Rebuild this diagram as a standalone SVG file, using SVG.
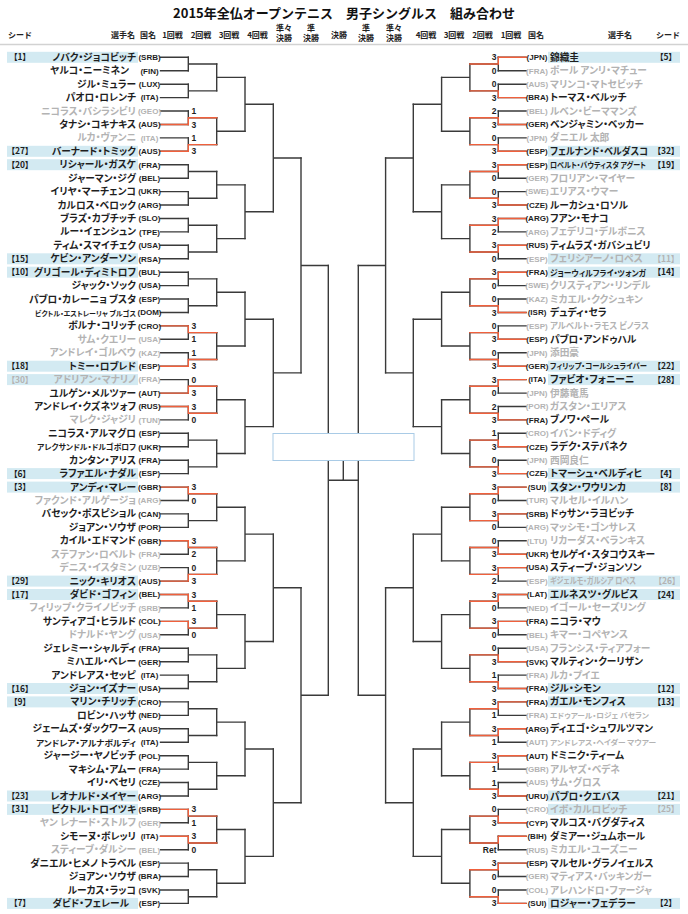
<svg xmlns="http://www.w3.org/2000/svg" xmlns:xlink="http://www.w3.org/1999/xlink" width="688" height="914" viewBox="0 0 688 914">
<style>
text{font-family:"Noto Sans CJK JP","Noto Sans",sans-serif}
.ti{font-size:13px;font-weight:700;fill:#111;text-anchor:middle}
.hd{font-size:8px;font-weight:700;fill:#222;text-anchor:middle}
.nm{font-size:9.7px;font-weight:700;fill:#1e1e1e;font-feature-settings:"palt"}
.l{text-anchor:end}
.co{font-family:"Liberation Sans",Arial,sans-serif;font-size:8px;font-weight:700;fill:#1e1e1e;text-anchor:middle}
.sd{font-size:8.5px;font-weight:700;fill:#1e1e1e;text-anchor:middle;font-feature-settings:"palt"}
.sc{font-family:"Liberation Sans",Arial,sans-serif;font-size:8.5px;font-weight:700;fill:#1e1e1e}
.r{text-anchor:end}
.g text{fill:#b3b3b3}
.hl{fill:#d3eaf2}
.ln{fill:none;stroke:#3a3a3a;stroke-width:1.4;stroke-linecap:square}
.rd{fill:none;stroke:#f0603c;stroke-width:1.4;stroke-linecap:square}
</style>
<rect width="688" height="914" fill="#fff"/>
<g id="header">
<text class="ti" x="344" y="17.5">2015年全仏オープンテニス　男子シングルス　組み合わせ</text>
<text class="hd" x="20" y="38">シード</text>
<text class="hd" x="123" y="38">選手名</text>
<text class="hd" x="148" y="38">国名</text>
<text class="hd" x="172.5" y="38">1回戦</text>
<text class="hd" x="201" y="38">2回戦</text>
<text class="hd" x="229" y="38">3回戦</text>
<text class="hd" x="257.5" y="38">4回戦</text>
<text class="hd" x="284" y="30.5">準々</text><text class="hd" x="284" y="40.5">決勝</text>
<text class="hd" x="311" y="30.5">準</text><text class="hd" x="311" y="40.5">決勝</text>
<text class="hd" x="339" y="38">決勝</text>
<text class="hd" x="366" y="30.5">準</text><text class="hd" x="366" y="40.5">決勝</text>
<text class="hd" x="394" y="30.5">準々</text><text class="hd" x="394" y="40.5">決勝</text>
<text class="hd" x="426" y="38">4回戦</text>
<text class="hd" x="454" y="38">3回戦</text>
<text class="hd" x="482.5" y="38">2回戦</text>
<text class="hd" x="511" y="38">1回戦</text>
<text class="hd" x="536" y="38">国名</text>
<text class="hd" x="620" y="38">選手名</text>
<text class="hd" x="668" y="38">シード</text>
<line x1="0" y1="44.5" x2="688" y2="44.5" stroke="#d2d2d2" stroke-width="1.5"/>
</g>
<g id="connectors">
<g id="bracketL" class="ln">
<path d="M160.5 57.3h27.8M160.5 70.7h27.8M160.5 84.2h27.8M160.5 97.6h27.8M160.5 111h27.8M160.5 124.5h27.8M160.5 137.9h27.8M160.5 151.3h27.8M160.5 164.7h27.8M160.5 178.2h27.8M160.5 191.6h27.8M160.5 205h27.8M160.5 218.5h27.8M160.5 231.9h27.8M160.5 245.3h27.8M160.5 258.8h27.8M160.5 272.2h27.8M160.5 285.6h27.8M160.5 299h27.8M160.5 312.5h27.8M160.5 325.9h27.8M160.5 339.3h27.8M160.5 352.8h27.8M160.5 366.2h27.8M160.5 379.6h27.8M160.5 393.1h27.8M160.5 406.5h27.8M160.5 419.9h27.8M160.5 433.3h27.8M160.5 446.8h27.8M160.5 460.2h27.8M160.5 473.6h27.8M160.5 487.1h27.8M160.5 500.5h27.8M160.5 513.9h27.8M160.5 527.4h27.8M160.5 540.8h27.8M160.5 554.2h27.8M160.5 567.6h27.8M160.5 581.1h27.8M160.5 594.5h27.8M160.5 607.9h27.8M160.5 621.4h27.8M160.5 634.8h27.8M160.5 648.2h27.8M160.5 661.7h27.8M160.5 675.1h27.8M160.5 688.5h27.8M160.5 701.9h27.8M160.5 715.4h27.8M160.5 728.8h27.8M160.5 742.2h27.8M160.5 755.7h27.8M160.5 769.1h27.8M160.5 782.5h27.8M160.5 796h27.8M160.5 809.4h27.8M160.5 822.8h27.8M160.5 836.2h27.8M160.5 849.7h27.8M160.5 863.1h27.8M160.5 876.5h27.8M160.5 890h27.8M160.5 903.4h27.8"/>
<path d="M188.3 57.3V70.7M188.3 64h28.4M188.3 84.2V97.6M188.3 90.9h28.4M188.3 111V124.5M188.3 117.7h28.4M188.3 137.9V151.3M188.3 144.6h28.4M188.3 164.7V178.2M188.3 171.5h28.4M188.3 191.6V205M188.3 198.3h28.4M188.3 218.5V231.9M188.3 225.2h28.4M188.3 245.3V258.8M188.3 252h28.4M188.3 272.2V285.6M188.3 278.9h28.4M188.3 299V312.5M188.3 305.8h28.4M188.3 325.9V339.3M188.3 332.6h28.4M188.3 352.8V366.2M188.3 359.5h28.4M188.3 379.6V393.1M188.3 386.3h28.4M188.3 406.5V419.9M188.3 413.2h28.4M188.3 433.3V446.8M188.3 440.1h28.4M188.3 460.2V473.6M188.3 466.9h28.4M188.3 487.1V500.5M188.3 493.8h28.4M188.3 513.9V527.4M188.3 520.6h28.4M188.3 540.8V554.2M188.3 547.5h28.4M188.3 567.6V581.1M188.3 574.4h28.4M188.3 594.5V607.9M188.3 601.2h28.4M188.3 621.4V634.8M188.3 628.1h28.4M188.3 648.2V661.7M188.3 654.9h28.4M188.3 675.1V688.5M188.3 681.8h28.4M188.3 701.9V715.4M188.3 708.7h28.4M188.3 728.8V742.2M188.3 735.5h28.4M188.3 755.7V769.1M188.3 762.4h28.4M188.3 782.5V796M188.3 789.2h28.4M188.3 809.4V822.8M188.3 816.1h28.4M188.3 836.2V849.7M188.3 843h28.4M188.3 863.1V876.5M188.3 869.8h28.4M188.3 890V903.4M188.3 896.7h28.4"/>
<path d="M216.7 64V90.9M216.7 77.4h28.3M216.7 117.7V144.6M216.7 131.2h28.3M216.7 171.5V198.3M216.7 184.9h28.3M216.7 225.2V252M216.7 238.6h28.3M216.7 278.9V305.8M216.7 292.3h28.3M216.7 332.6V359.5M216.7 346h28.3M216.7 386.3V413.2M216.7 399.8h28.3M216.7 440.1V466.9M216.7 453.5h28.3M216.7 493.8V520.6M216.7 507.2h28.3M216.7 547.5V574.4M216.7 560.9h28.3M216.7 601.2V628.1M216.7 614.6h28.3M216.7 654.9V681.8M216.7 668.4h28.3M216.7 708.7V735.5M216.7 722.1h28.3M216.7 762.4V789.2M216.7 775.8h28.3M216.7 816.1V843M216.7 829.5h28.3M216.7 869.8V896.7M216.7 883.2h28.3"/>
<path d="M245 77.4V131.2M245 104.3h28.3M245 184.9V238.6M245 211.7h28.3M245 292.3V346M245 319.2h28.3M245 399.8V453.5M245 426.6h28.3M245 507.2V560.9M245 534.1h28.3M245 614.6V668.4M245 641.5h28.3M245 722.1V775.8M245 749h28.3M245 829.5V883.2M245 856.4h28.3"/>
<path d="M273.3 104.3V211.7M273.3 158h27.7M273.3 319.2V426.6M273.3 372.9h27.7M273.3 534.1V641.5M273.3 587.8h27.7M273.3 749V856.4M273.3 802.7h27.7"/>
<path d="M301 158V372.9M301 265.5h27.3M301 587.8V802.7M301 695.2h27.3"/>
<path d="M328.3 265.5V695.2M328.3 480.3H343.3"/>
</g>
<use id="bracketR" xlink:href="#bracketL" href="#bracketL" transform="matrix(-1 0 0 1 686.6 0)"/>
<path id="finalStem" class="ln" d="M343.3 480.3V460"/>
<g id="redL" class="rd">
<path d="M160.5 124.5H188.3V117.7H216.7M160.5 151.3H188.3V144.6H216.7M160.5 325.9H188.3V332.6H216.7M160.5 366.2H188.3V359.5H216.7M160.5 393.1H188.3V386.3H216.7M160.5 406.5H188.3V413.2H216.7M160.5 487.1H188.3V493.8H216.7M160.5 540.8H188.3V547.5H216.7M160.5 581.1H188.3V574.4H216.7M160.5 594.5H188.3V601.2H216.7M160.5 621.4H188.3V628.1H216.7M160.5 809.4H188.3V816.1H216.7M160.5 836.2H188.3V843H216.7"/>
</g>
<g id="redR" class="rd">
<path d="M526 57.3H498.3V64H469.8M526 97.6H498.3V90.9H469.8M526 124.5H498.3V117.7H469.8M526 151.3H498.3V144.6H469.8M526 164.7H498.3V171.5H469.8M526 205H498.3V198.3H469.8M526 218.5H498.3V225.2H469.8M526 245.3H498.3V252H469.8M526 272.2H498.3V278.9H469.8M526 312.5H498.3V305.8H469.8M526 339.3H498.3V332.6H469.8M526 366.2H498.3V359.5H469.8M526 379.6H498.3V386.3H469.8M526 419.9H498.3V413.2H469.8M526 446.8H498.3V440.1H469.8M526 473.6H498.3V466.9H469.8M526 487.1H498.3V493.8H469.8M526 513.9H498.3V520.6H469.8M526 554.2H498.3V547.5H469.8M526 567.6H498.3V574.4H469.8M526 594.5H498.3V601.2H469.8M526 621.4H498.3V628.1H469.8M526 661.7H498.3V654.9H469.8M526 688.5H498.3V681.8H469.8M526 701.9H498.3V708.7H469.8M526 728.8H498.3V735.5H469.8M526 755.7H498.3V762.4H469.8M526 796H498.3V789.2H469.8M526 822.8H498.3V816.1H469.8M526 836.2H498.3V843H469.8M526 863.1H498.3V869.8H469.8M526 903.4H498.3V896.7H469.8"/>
</g>
</g>
<g id="champion"><rect x="273" y="433.5" width="141" height="27" fill="#fff" stroke="#a9cbe6" stroke-width="1"/></g>
<g id="left">
<g id="L00" transform="translate(0,57.3)"><rect class="hl" x="7" y="-5.5" width="131" height="11"/><text class="sd" x="20" y="3">【1】</text><text class="nm l" x="136" y="3.5">ノバク・ジョコビッチ</text><text class="co" x="149.5" y="2.8">(SRB)</text></g>
<g id="L01" transform="translate(0,70.7)"><text class="nm l" x="129" y="3.5">ヤルコ・ニーミネン</text><text class="co" x="149.5" y="2.8">(FIN)</text></g>
<g id="L02" transform="translate(0,84.2)"><text class="nm l" x="136" y="3.5">ジル・ミュラー</text><text class="co" x="149.5" y="2.8">(LUX)</text></g>
<g id="L03" transform="translate(0,97.6)"><text class="nm l" x="136" y="3.5">パオロ・ロレンチ</text><text class="co" x="149.5" y="2.8">(ITA)</text></g>
<g id="L04" class="g" transform="translate(0,111)"><text class="nm l" x="136" y="3.5">ニコラス・バシラシビリ</text><text class="co" x="149.5" y="2.8">(GEO)</text></g><text class="sc" x="191.5" y="114">1</text>
<g id="L05" transform="translate(0,124.5)"><text class="nm l" x="136" y="3.5">タナシ・コキナキス</text><text class="co" x="149.5" y="2.8">(AUS)</text><text class="sc" x="191.5" y="3">3</text></g>
<g id="L06" class="g" transform="translate(0,137.9)"><text class="nm l" x="136" y="3.5">ルカ・ヴァンニ</text><text class="co" x="149.5" y="2.8">(ITA)</text></g><text class="sc" x="191.5" y="140.9">1</text>
<g id="L07" transform="translate(0,151.3)"><rect class="hl" x="7" y="-5.5" width="131" height="11"/><text class="sd" x="20" y="3">【27】</text><text class="nm l" x="136" y="3.5">バーナード・トミック</text><text class="co" x="149.5" y="2.8">(AUS)</text><text class="sc" x="191.5" y="3">3</text></g>
<g id="L08" transform="translate(0,164.7)"><rect class="hl" x="7" y="-5.5" width="131" height="11"/><text class="sd" x="20" y="3">【20】</text><text class="nm l" x="136" y="3.5">リシャール・ガスケ</text><text class="co" x="149.5" y="2.8">(FRA)</text></g>
<g id="L09" transform="translate(0,178.2)"><text class="nm l" x="136" y="3.5">ジャーマン・ジグ</text><text class="co" x="149.5" y="2.8">(BEL)</text></g>
<g id="L10" transform="translate(0,191.6)"><text class="nm l" x="136" y="3.5">イリヤ・マーチェンコ</text><text class="co" x="149.5" y="2.8">(UKR)</text></g>
<g id="L11" transform="translate(0,205)"><text class="nm l" x="136" y="3.5">カルロス・ベロック</text><text class="co" x="149.5" y="2.8">(ARG)</text></g>
<g id="L12" transform="translate(0,218.5)"><text class="nm l" x="136" y="3.5">ブラズ・カブチッチ</text><text class="co" x="149.5" y="2.8">(SLO)</text></g>
<g id="L13" transform="translate(0,231.9)"><text class="nm l" x="136" y="3.5">ルー・イェンシュン</text><text class="co" x="149.5" y="2.8">(TPE)</text></g>
<g id="L14" transform="translate(0,245.3)"><text class="nm l" x="136" y="3.5">ティム・スマイチェク</text><text class="co" x="149.5" y="2.8">(USA)</text></g>
<g id="L15" transform="translate(0,258.8)"><rect class="hl" x="7" y="-5.5" width="131" height="11"/><text class="sd" x="20" y="3">【15】</text><text class="nm l" x="136" y="3.5">ケビン・アンダーソン</text><text class="co" x="149.5" y="2.8">(RSA)</text></g>
<g id="L16" transform="translate(0,272.2)"><rect class="hl" x="7" y="-5.5" width="131" height="11"/><text class="sd" x="20" y="3">【10】</text><text class="nm l" x="136" y="3.5">グリゴール・ディミトロフ</text><text class="co" x="149.5" y="2.8">(BUL)</text></g>
<g id="L17" transform="translate(0,285.6)"><text class="nm l" x="136" y="3.5">ジャック・ソック</text><text class="co" x="149.5" y="2.8">(USA)</text></g>
<g id="L18" transform="translate(0,299)"><text class="nm l" x="136" y="3.5">パブロ・カレーニョ ブスタ</text><text class="co" x="149.5" y="2.8">(ESP)</text></g>
<g id="L19" transform="translate(0,312.5)"><text class="nm l" x="136" y="3" style="font-size:7px" textLength="101" lengthAdjust="spacingAndGlyphs">ビクトル・エストレーリャ ブルゴス</text><text class="co" x="149.5" y="2.8">(DOM)</text></g>
<g id="L20" transform="translate(0,325.9)"><text class="nm l" x="136" y="3.5">ボルナ・コリッチ</text><text class="co" x="149.5" y="2.8">(CRO)</text><text class="sc" x="191.5" y="3">3</text></g>
<g id="L21" class="g" transform="translate(0,339.3)"><text class="nm l" x="136" y="3.5">サム・クエリー</text><text class="co" x="149.5" y="2.8">(USA)</text></g><text class="sc" x="191.5" y="342.3">1</text>
<g id="L22" class="g" transform="translate(0,352.8)"><text class="nm l" x="136" y="3.5">アンドレイ・ゴルベウ</text><text class="co" x="149.5" y="2.8">(KAZ)</text></g><text class="sc" x="191.5" y="355.8">1</text>
<g id="L23" transform="translate(0,366.2)"><rect class="hl" x="7" y="-5.5" width="131" height="11"/><text class="sd" x="20" y="3">【18】</text><text class="nm l" x="136" y="3.5">トミー・ロブレド</text><text class="co" x="149.5" y="2.8">(ESP)</text><text class="sc" x="191.5" y="3">3</text></g>
<g id="L24" class="g" transform="translate(0,379.6)"><rect class="hl" x="7" y="-5.5" width="131" height="11"/><text class="sd" x="20" y="3">【30】</text><text class="nm l" x="136" y="3.5">アドリアン・マナリノ</text><text class="co" x="149.5" y="2.8">(FRA)</text></g><text class="sc" x="191.5" y="382.6">0</text>
<g id="L25" transform="translate(0,393.1)"><text class="nm l" x="136" y="3.5">ユルゲン・メルツァー</text><text class="co" x="149.5" y="2.8">(AUT)</text><text class="sc" x="191.5" y="3">3</text></g>
<g id="L26" transform="translate(0,406.5)"><text class="nm l" x="136" y="3.5">アンドレイ・クズネツォフ</text><text class="co" x="149.5" y="2.8">(RUS)</text><text class="sc" x="191.5" y="3">3</text></g>
<g id="L27" class="g" transform="translate(0,419.9)"><text class="nm l" x="136" y="3.5">マレク・ジャジリ</text><text class="co" x="149.5" y="2.8">(TUN)</text></g><text class="sc" x="191.5" y="422.9">0</text>
<g id="L28" transform="translate(0,433.3)"><text class="nm l" x="136" y="3.5">ニコラス・アルマグロ</text><text class="co" x="149.5" y="2.8">(ESP)</text></g>
<g id="L29" transform="translate(0,446.8)"><text class="nm l" x="136" y="3.2" style="font-size:7.8px" textLength="99" lengthAdjust="spacingAndGlyphs">アレクサンドル・ドルゴポロフ</text><text class="co" x="149.5" y="2.8">(UKR)</text></g>
<g id="L30" transform="translate(0,460.2)"><text class="nm l" x="136" y="3.5">カンタン・アリス</text><text class="co" x="149.5" y="2.8">(FRA)</text></g>
<g id="L31" transform="translate(0,473.6)"><rect class="hl" x="7" y="-5.5" width="131" height="11"/><text class="sd" x="20" y="3">【6】</text><text class="nm l" x="136" y="3.5">ラファエル・ナダル</text><text class="co" x="149.5" y="2.8">(ESP)</text></g>
<g id="L32" transform="translate(0,487.1)"><rect class="hl" x="7" y="-5.5" width="131" height="11"/><text class="sd" x="20" y="3">【3】</text><text class="nm l" x="136" y="3.5">アンディ・マレー</text><text class="co" x="149.5" y="2.8">(GBR)</text><text class="sc" x="191.5" y="3">3</text></g>
<g id="L33" class="g" transform="translate(0,500.5)"><text class="nm l" x="136" y="3.5">ファクンド・アルゲージョ</text><text class="co" x="149.5" y="2.8">(ARG)</text></g><text class="sc" x="191.5" y="503.5">0</text>
<g id="L34" transform="translate(0,513.9)"><text class="nm l" x="136" y="3.5">バセック・ポスピショル</text><text class="co" x="149.5" y="2.8">(CAN)</text></g>
<g id="L35" transform="translate(0,527.4)"><text class="nm l" x="136" y="3.5">ジョアン・ソウザ</text><text class="co" x="149.5" y="2.8">(POR)</text></g>
<g id="L36" transform="translate(0,540.8)"><text class="nm l" x="136" y="3.5">カイル・エドマンド</text><text class="co" x="149.5" y="2.8">(GBR)</text><text class="sc" x="191.5" y="3">3</text></g>
<g id="L37" class="g" transform="translate(0,554.2)"><text class="nm l" x="136" y="3.5">ステファン・ロベルト</text><text class="co" x="149.5" y="2.8">(FRA)</text></g><text class="sc" x="191.5" y="557.2">2</text>
<g id="L38" class="g" transform="translate(0,567.6)"><text class="nm l" x="136" y="3.5">デニス・イスタミン</text><text class="co" x="149.5" y="2.8">(UZB)</text></g><text class="sc" x="191.5" y="570.6">0</text>
<g id="L39" transform="translate(0,581.1)"><rect class="hl" x="7" y="-5.5" width="131" height="11"/><text class="sd" x="20" y="3">【29】</text><text class="nm l" x="136" y="3.5">ニック・キリオス</text><text class="co" x="149.5" y="2.8">(AUS)</text><text class="sc" x="191.5" y="3">3</text></g>
<g id="L40" transform="translate(0,594.5)"><rect class="hl" x="7" y="-5.5" width="131" height="11"/><text class="sd" x="20" y="3">【17】</text><text class="nm l" x="136" y="3.5">ダビド・ゴフィン</text><text class="co" x="149.5" y="2.8">(BEL)</text><text class="sc" x="191.5" y="3">3</text></g>
<g id="L41" class="g" transform="translate(0,607.9)"><text class="nm l" x="136" y="3.5">フィリップ・クライノビッチ</text><text class="co" x="149.5" y="2.8">(SRB)</text></g><text class="sc" x="191.5" y="610.9">1</text>
<g id="L42" transform="translate(0,621.4)"><text class="nm l" x="136" y="3.5">サンティアゴ・ヒラルド</text><text class="co" x="149.5" y="2.8">(COL)</text><text class="sc" x="191.5" y="3">3</text></g>
<g id="L43" class="g" transform="translate(0,634.8)"><text class="nm l" x="136" y="3.5">ドナルド・ヤング</text><text class="co" x="149.5" y="2.8">(USA)</text></g><text class="sc" x="191.5" y="637.8">0</text>
<g id="L44" transform="translate(0,648.2)"><text class="nm l" x="136" y="3.5">ジェレミー・シャルディ</text><text class="co" x="149.5" y="2.8">(FRA)</text></g>
<g id="L45" transform="translate(0,661.7)"><text class="nm l" x="136" y="3.5">ミハエル・ベレー</text><text class="co" x="149.5" y="2.8">(GER)</text></g>
<g id="L46" transform="translate(0,675.1)"><text class="nm l" x="136" y="3.5">アンドレアス・セッピ</text><text class="co" x="149.5" y="2.8">(ITA)</text></g>
<g id="L47" transform="translate(0,688.5)"><rect class="hl" x="7" y="-5.5" width="131" height="11"/><text class="sd" x="20" y="3">【16】</text><text class="nm l" x="136" y="3.5">ジョン・イズナー</text><text class="co" x="149.5" y="2.8">(USA)</text></g>
<g id="L48" transform="translate(0,701.9)"><rect class="hl" x="7" y="-5.5" width="131" height="11"/><text class="sd" x="20" y="3">【9】</text><text class="nm l" x="136" y="3.5">マリン・チリッチ</text><text class="co" x="149.5" y="2.8">(CRO)</text></g>
<g id="L49" transform="translate(0,715.4)"><text class="nm l" x="136" y="3.5">ロビン・ハッサ</text><text class="co" x="149.5" y="2.8">(NED)</text></g>
<g id="L50" transform="translate(0,728.8)"><text class="nm l" x="136" y="3.5">ジェームズ・ダックワース</text><text class="co" x="149.5" y="2.8">(AUS)</text></g>
<g id="L51" transform="translate(0,742.2)"><text class="nm l" x="136" y="3.3" style="font-size:8.5px" textLength="100" lengthAdjust="spacingAndGlyphs">アンドレア・アルナボルディ</text><text class="co" x="149.5" y="2.8">(ITA)</text></g>
<g id="L52" transform="translate(0,755.7)"><text class="nm l" x="136" y="3.5">ジャージー・ヤノビッチ</text><text class="co" x="149.5" y="2.8">(POL)</text></g>
<g id="L53" transform="translate(0,769.1)"><text class="nm l" x="136" y="3.5">マキシム・アムー</text><text class="co" x="149.5" y="2.8">(FRA)</text></g>
<g id="L54" transform="translate(0,782.5)"><text class="nm l" x="136" y="3.5">イリ・ベセリ</text><text class="co" x="149.5" y="2.8">(CZE)</text></g>
<g id="L55" transform="translate(0,796)"><rect class="hl" x="7" y="-5.5" width="131" height="11"/><text class="sd" x="20" y="3">【23】</text><text class="nm l" x="136" y="3.5">レオナルド・メイヤー</text><text class="co" x="149.5" y="2.8">(ARG)</text></g>
<g id="L56" transform="translate(0,809.4)"><rect class="hl" x="7" y="-5.5" width="131" height="11"/><text class="sd" x="20" y="3">【31】</text><text class="nm l" x="136" y="3.5">ビクトル・トロイツキ</text><text class="co" x="149.5" y="2.8">(SRB)</text><text class="sc" x="191.5" y="3">3</text></g>
<g id="L57" class="g" transform="translate(0,822.8)"><text class="nm l" x="136" y="3.5">ヤン レナード・ストルフ</text><text class="co" x="149.5" y="2.8">(GER)</text></g><text class="sc" x="191.5" y="825.8">1</text>
<g id="L58" transform="translate(0,836.2)"><text class="nm l" x="136" y="3.5">シモーヌ・ボレッリ</text><text class="co" x="149.5" y="2.8">(ITA)</text><text class="sc" x="191.5" y="3">3</text></g>
<g id="L59" class="g" transform="translate(0,849.7)"><text class="nm l" x="136" y="3.5">スティーブ・ダルシー</text><text class="co" x="149.5" y="2.8">(BEL)</text></g><text class="sc" x="191.5" y="852.7">0</text>
<g id="L60" transform="translate(0,863.1)"><text class="nm l" x="136" y="3.5">ダニエル・ヒメノ トラベル</text><text class="co" x="149.5" y="2.8">(ESP)</text></g>
<g id="L61" transform="translate(0,876.5)"><text class="nm l" x="136" y="3.5">ジョアン・ソウザ</text><text class="co" x="149.5" y="2.8">(BRA)</text></g>
<g id="L62" transform="translate(0,890)"><text class="nm l" x="136" y="3.5">ルーカス・ラッコ</text><text class="co" x="149.5" y="2.8">(SVK)</text></g>
<g id="L63" transform="translate(0,903.4)"><rect class="hl" x="7" y="-5.5" width="131" height="11"/><text class="sd" x="20" y="3">【7】</text><text class="nm l" x="129" y="3.5">ダビド・フェレール</text><text class="co" x="149.5" y="2.8">(ESP)</text></g>
</g>
<g id="right">
<g id="R00" transform="translate(0,57.3)"><rect class="hl" x="548" y="-5.5" width="132" height="11"/><text class="sc r" x="496.5" y="3">3</text><text class="co" x="537" y="2.8">(JPN)</text><text class="nm" x="550" y="3.5">錦織圭</text><text class="sd" x="666" y="3">【5】</text></g>
<g id="R01" transform="translate(0,70.7)"><text class="sc r" x="496.5" y="3">0</text><g class="g"><text class="co" x="537" y="2.8">(FRA)</text><text class="nm" x="550" y="3.5">ポール アンリ・マチュー</text></g></g>
<g id="R02" transform="translate(0,84.2)"><text class="sc r" x="496.5" y="3">0</text><g class="g"><text class="co" x="537" y="2.8">(AUS)</text><text class="nm" x="550" y="3.5">マリンコ・マトセビッチ</text></g></g>
<g id="R03" transform="translate(0,97.6)"><text class="sc r" x="496.5" y="3">3</text><text class="co" x="537" y="2.8">(BRA)</text><text class="nm" x="550" y="3.5">トーマス・ベルッチ</text></g>
<g id="R04" transform="translate(0,111)"><text class="sc r" x="496.5" y="3">2</text><g class="g"><text class="co" x="537" y="2.8">(BEL)</text><text class="nm" x="550" y="3.5">ルベン・ビーママンズ</text></g></g>
<g id="R05" transform="translate(0,124.5)"><text class="sc r" x="496.5" y="3">3</text><text class="co" x="537" y="2.8">(GER)</text><text class="nm" x="550" y="3.5">ベンジャミン・ベッカー</text></g>
<g id="R06" transform="translate(0,137.9)"><text class="sc r" x="496.5" y="3">0</text><g class="g"><text class="co" x="537" y="2.8">(JPN)</text><text class="nm" x="550" y="3.5">ダニエル 太郎</text></g></g>
<g id="R07" transform="translate(0,151.3)"><rect class="hl" x="548" y="-5.5" width="132" height="11"/><text class="sc r" x="496.5" y="3">3</text><text class="co" x="537" y="2.8">(ESP)</text><text class="nm" x="550" y="3.5" textLength="98" lengthAdjust="spacingAndGlyphs">フェルナンド・ベルダスコ</text><text class="sd" x="666" y="3">【32】</text></g>
<g id="R08" transform="translate(0,164.7)"><rect class="hl" x="548" y="-5.5" width="132" height="11"/><text class="sc r" x="496.5" y="3">3</text><text class="co" x="537" y="2.8">(ESP)</text><text class="nm" x="550" y="3.2" style="font-size:7.8px" textLength="96" lengthAdjust="spacingAndGlyphs">ロベルト・バウティスタ アグート</text><text class="sd" x="666" y="3">【19】</text></g>
<g id="R09" transform="translate(0,178.2)"><text class="sc r" x="496.5" y="3">0</text><g class="g"><text class="co" x="537" y="2.8">(GER)</text><text class="nm" x="550" y="3.5">フロリアン・マイヤー</text></g></g>
<g id="R10" transform="translate(0,191.6)"><text class="sc r" x="496.5" y="3">0</text><g class="g"><text class="co" x="537" y="2.8">(SWE)</text><text class="nm" x="550" y="3.5">エリアス・ウマー</text></g></g>
<g id="R11" transform="translate(0,205)"><text class="sc r" x="496.5" y="3">3</text><text class="co" x="537" y="2.8">(CZE)</text><text class="nm" x="550" y="3.5">ルーカシュ・ロソル</text></g>
<g id="R12" transform="translate(0,218.5)"><text class="sc r" x="496.5" y="3">3</text><text class="co" x="537" y="2.8">(ARG)</text><text class="nm" x="550" y="3.5">フアン・モナコ</text></g>
<g id="R13" transform="translate(0,231.9)"><text class="sc r" x="496.5" y="3">2</text><g class="g"><text class="co" x="537" y="2.8">(ARG)</text><text class="nm" x="550" y="3.5">フェデリコ・デルボニス</text></g></g>
<g id="R14" transform="translate(0,245.3)"><text class="sc r" x="496.5" y="3">3</text><text class="co" x="537" y="2.8">(RUS)</text><text class="nm" x="550" y="3.5">ティムラズ・ガバシュビリ</text></g>
<g id="R15" transform="translate(0,258.8)"><rect class="hl" x="548" y="-5.5" width="132" height="11"/><text class="sc r" x="496.5" y="3">0</text><g class="g"><text class="co" x="537" y="2.8">(ESP)</text><text class="nm" x="550" y="3.5">フェリシアーノ・ロペス</text><text class="sd" x="666" y="3">【11】</text></g></g>
<g id="R16" transform="translate(0,272.2)"><rect class="hl" x="548" y="-5.5" width="132" height="11"/><text class="sc r" x="496.5" y="3">3</text><text class="co" x="537" y="2.8">(FRA)</text><text class="nm" x="550" y="3.3" style="font-size:8.5px" textLength="96" lengthAdjust="spacingAndGlyphs">ジョーウィルフライ・ツォンガ</text><text class="sd" x="666" y="3">【14】</text></g>
<g id="R17" transform="translate(0,285.6)"><text class="sc r" x="496.5" y="3">0</text><g class="g"><text class="co" x="537" y="2.8">(SWE)</text><text class="nm" x="550" y="3.5">クリスティアン・リンデル</text></g></g>
<g id="R18" transform="translate(0,299)"><text class="sc r" x="496.5" y="3">0</text><g class="g"><text class="co" x="537" y="2.8">(KAZ)</text><text class="nm" x="550" y="3.5">ミカエル・ククシュキン</text></g></g>
<g id="R19" transform="translate(0,312.5)"><text class="sc r" x="496.5" y="3">3</text><text class="co" x="537" y="2.8">(ISR)</text><text class="nm" x="550" y="3.5">デュディ・セラ</text></g>
<g id="R20" transform="translate(0,325.9)"><text class="sc r" x="496.5" y="3">0</text><g class="g"><text class="co" x="537" y="2.8">(ESP)</text><text class="nm" x="550" y="3.3" style="font-size:8.8px" textLength="99" lengthAdjust="spacingAndGlyphs">アルベルト・ラモス ビノラス</text></g></g>
<g id="R21" transform="translate(0,339.3)"><text class="sc r" x="496.5" y="3">3</text><text class="co" x="537" y="2.8">(ESP)</text><text class="nm" x="550" y="3.5">パブロ・アンドゥハル</text></g>
<g id="R22" transform="translate(0,352.8)"><text class="sc r" x="496.5" y="3">0</text><g class="g"><text class="co" x="537" y="2.8">(JPN)</text><text class="nm" x="550" y="3.5">添田豪</text></g></g>
<g id="R23" transform="translate(0,366.2)"><rect class="hl" x="548" y="-5.5" width="132" height="11"/><text class="sc r" x="496.5" y="3">3</text><text class="co" x="537" y="2.8">(GER)</text><text class="nm" x="550" y="3.2" style="font-size:7.8px" textLength="97" lengthAdjust="spacingAndGlyphs">フィリップ・コールシュライバー</text><text class="sd" x="666" y="3">【22】</text></g>
<g id="R24" transform="translate(0,379.6)"><rect class="hl" x="548" y="-5.5" width="132" height="11"/><text class="sc r" x="496.5" y="3">3</text><text class="co" x="537" y="2.8">(ITA)</text><text class="nm" x="550" y="3.5">ファビオ・フォニーニ</text><text class="sd" x="666" y="3">【28】</text></g>
<g id="R25" transform="translate(0,393.1)"><text class="sc r" x="496.5" y="3">0</text><g class="g"><text class="co" x="537" y="2.8">(JPN)</text><text class="nm" x="550" y="3.5">伊藤竜馬</text></g></g>
<g id="R26" transform="translate(0,406.5)"><text class="sc r" x="496.5" y="3">2</text><g class="g"><text class="co" x="537" y="2.8">(POR)</text><text class="nm" x="550" y="3.5">ガスタン・エリアス</text></g></g>
<g id="R27" transform="translate(0,419.9)"><text class="sc r" x="496.5" y="3">3</text><text class="co" x="537" y="2.8">(FRA)</text><text class="nm" x="550" y="3.5">ブノワ・ペール</text></g>
<g id="R28" transform="translate(0,433.3)"><text class="sc r" x="496.5" y="3">1</text><g class="g"><text class="co" x="537" y="2.8">(CRO)</text><text class="nm" x="550" y="3.5">イバン・ドディグ</text></g></g>
<g id="R29" transform="translate(0,446.8)"><text class="sc r" x="496.5" y="3">3</text><text class="co" x="537" y="2.8">(CZE)</text><text class="nm" x="550" y="3.5">ラデク・ステパネク</text></g>
<g id="R30" transform="translate(0,460.2)"><text class="sc r" x="496.5" y="3">0</text><g class="g"><text class="co" x="537" y="2.8">(JPN)</text><text class="nm" x="550" y="3.5">西岡良仁</text></g></g>
<g id="R31" transform="translate(0,473.6)"><rect class="hl" x="548" y="-5.5" width="132" height="11"/><text class="sc r" x="496.5" y="3">3</text><text class="co" x="537" y="2.8">(CZE)</text><text class="nm" x="550" y="3.5">トマーシュ・ベルディヒ</text><text class="sd" x="666" y="3">【4】</text></g>
<g id="R32" transform="translate(0,487.1)"><rect class="hl" x="548" y="-5.5" width="132" height="11"/><text class="sc r" x="496.5" y="3">3</text><text class="co" x="537" y="2.8">(SUI)</text><text class="nm" x="550" y="3.5">スタン・ワウリンカ</text><text class="sd" x="666" y="3">【8】</text></g>
<g id="R33" transform="translate(0,500.5)"><text class="sc r" x="496.5" y="3">0</text><g class="g"><text class="co" x="537" y="2.8">(TUR)</text><text class="nm" x="550" y="3.5">マルセル・イルハン</text></g></g>
<g id="R34" transform="translate(0,513.9)"><text class="sc r" x="496.5" y="3">3</text><text class="co" x="537" y="2.8">(SRB)</text><text class="nm" x="550" y="3.5">ドゥサン・ラヨビッチ</text></g>
<g id="R35" transform="translate(0,527.4)"><text class="sc r" x="496.5" y="3">0</text><g class="g"><text class="co" x="537" y="2.8">(ARG)</text><text class="nm" x="550" y="3.5">マッシモ・ゴンサレス</text></g></g>
<g id="R36" transform="translate(0,540.8)"><text class="sc r" x="496.5" y="3">0</text><g class="g"><text class="co" x="537" y="2.8">(LTU)</text><text class="nm" x="550" y="3.5">リカーダス・ベランキス</text></g></g>
<g id="R37" transform="translate(0,554.2)"><text class="sc r" x="496.5" y="3">3</text><text class="co" x="537" y="2.8">(UKR)</text><text class="nm" x="550" y="3.5">セルゲイ・スタコウスキー</text></g>
<g id="R38" transform="translate(0,567.6)"><text class="sc r" x="496.5" y="3">3</text><text class="co" x="537" y="2.8">(USA)</text><text class="nm" x="550" y="3.5">スティーブ・ジョンソン</text></g>
<g id="R39" transform="translate(0,581.1)"><rect class="hl" x="548" y="-5.5" width="132" height="11"/><text class="sc r" x="496.5" y="3">2</text><g class="g"><text class="co" x="537" y="2.8">(ESP)</text><text class="nm" x="550" y="3.3" style="font-size:9px" textLength="86" lengthAdjust="spacingAndGlyphs">ギジェルモ・ガルシア ロペス</text><text class="sd" x="667" y="3">【26】</text></g></g>
<g id="R40" transform="translate(0,594.5)"><rect class="hl" x="548" y="-5.5" width="132" height="11"/><text class="sc r" x="496.5" y="3">3</text><text class="co" x="537" y="2.8">(LAT)</text><text class="nm" x="550" y="3.5">エルネスツ・グルビス</text><text class="sd" x="666" y="3">【24】</text></g>
<g id="R41" transform="translate(0,607.9)"><text class="sc r" x="496.5" y="3">0</text><g class="g"><text class="co" x="537" y="2.8">(NED)</text><text class="nm" x="550" y="3.5">イゴール・セーズリング</text></g></g>
<g id="R42" transform="translate(0,621.4)"><text class="sc r" x="496.5" y="3">3</text><text class="co" x="537" y="2.8">(FRA)</text><text class="nm" x="550" y="3.5">ニコラ・マウ</text></g>
<g id="R43" transform="translate(0,634.8)"><text class="sc r" x="496.5" y="3">0</text><g class="g"><text class="co" x="537" y="2.8">(BEL)</text><text class="nm" x="550" y="3.5">キマー・コペヤンス</text></g></g>
<g id="R44" transform="translate(0,648.2)"><text class="sc r" x="496.5" y="3">0</text><g class="g"><text class="co" x="537" y="2.8">(USA)</text><text class="nm" x="550" y="3.5">フランシス・ティアフォー</text></g></g>
<g id="R45" transform="translate(0,661.7)"><text class="sc r" x="496.5" y="3">3</text><text class="co" x="537" y="2.8">(SVK)</text><text class="nm" x="550" y="3.5">マルティン・クーリザン</text></g>
<g id="R46" transform="translate(0,675.1)"><text class="sc r" x="496.5" y="3">1</text><g class="g"><text class="co" x="537" y="2.8">(FRA)</text><text class="nm" x="550" y="3.5">ルカ・プイエ</text></g></g>
<g id="R47" transform="translate(0,688.5)"><rect class="hl" x="548" y="-5.5" width="132" height="11"/><text class="sc r" x="496.5" y="3">3</text><text class="co" x="537" y="2.8">(FRA)</text><text class="nm" x="550" y="3.5">ジル・シモン</text><text class="sd" x="666" y="3">【12】</text></g>
<g id="R48" transform="translate(0,701.9)"><rect class="hl" x="548" y="-5.5" width="132" height="11"/><text class="sc r" x="496.5" y="3">3</text><text class="co" x="537" y="2.8">(FRA)</text><text class="nm" x="550" y="3.5">ガエル・モンフィス</text><text class="sd" x="666" y="3">【13】</text></g>
<g id="R49" transform="translate(0,715.4)"><text class="sc r" x="496.5" y="3">1</text><g class="g"><text class="co" x="537" y="2.8">(FRA)</text><text class="nm" x="550" y="3" style="font-size:7.3px" textLength="99" lengthAdjust="spacingAndGlyphs">エドゥアール・ロジェ バセラン</text></g></g>
<g id="R50" transform="translate(0,728.8)"><text class="sc r" x="496.5" y="3">3</text><text class="co" x="537" y="2.8">(ARG)</text><text class="nm" x="550" y="3.5">ディエゴ・シュワルツマン</text></g>
<g id="R51" transform="translate(0,742.2)"><text class="sc r" x="496.5" y="3">1</text><g class="g"><text class="co" x="537" y="2.8">(AUT)</text><text class="nm" x="550" y="3" style="font-size:7.3px" textLength="106" lengthAdjust="spacingAndGlyphs">アンドレアス・ヘイダー マウアー</text></g></g>
<g id="R52" transform="translate(0,755.7)"><text class="sc r" x="496.5" y="3">3</text><text class="co" x="537" y="2.8">(AUT)</text><text class="nm" x="550" y="3.5">ドミニク・ティーム</text></g>
<g id="R53" transform="translate(0,769.1)"><text class="sc r" x="496.5" y="3">1</text><g class="g"><text class="co" x="537" y="2.8">(GBR)</text><text class="nm" x="550" y="3.5">アルヤズ・ベデネ</text></g></g>
<g id="R54" transform="translate(0,782.5)"><text class="sc r" x="496.5" y="3">1</text><g class="g"><text class="co" x="537" y="2.8">(AUS)</text><text class="nm" x="550" y="3.5">サム・グロス</text></g></g>
<g id="R55" transform="translate(0,796)"><rect class="hl" x="548" y="-5.5" width="132" height="11"/><text class="sc r" x="496.5" y="3">3</text><text class="co" x="537" y="2.8">(URU)</text><text class="nm" x="550" y="3.5">パブロ・クエバス</text><text class="sd" x="666" y="3">【21】</text></g>
<g id="R56" transform="translate(0,809.4)"><rect class="hl" x="548" y="-5.5" width="132" height="11"/><text class="sc r" x="496.5" y="3">0</text><g class="g"><text class="co" x="537" y="2.8">(CRO)</text><text class="nm" x="550" y="3.5">イボ・カルロビッチ</text><text class="sd" x="666" y="3">【25】</text></g></g>
<g id="R57" transform="translate(0,822.8)"><text class="sc r" x="496.5" y="3">3</text><text class="co" x="537" y="2.8">(CYP)</text><text class="nm" x="550" y="3.5">マルコス・バグダティス</text></g>
<g id="R58" transform="translate(0,836.2)"><text class="co" x="537" y="2.8">(BIH)</text><text class="nm" x="550" y="3.5">ダミアー・ジュムホール</text></g>
<g id="R59" transform="translate(0,849.7)"><text class="sc r" x="496.5" y="3">Ret</text><g class="g"><text class="co" x="537" y="2.8">(RUS)</text><text class="nm" x="550" y="3.5">ミカエル・ユーズニー</text></g></g>
<g id="R60" transform="translate(0,863.1)"><text class="sc r" x="496.5" y="3">3</text><text class="co" x="537" y="2.8">(ESP)</text><text class="nm" x="550" y="3.5">マルセル・グラノイェルス</text></g>
<g id="R61" transform="translate(0,876.5)"><text class="sc r" x="496.5" y="3">0</text><g class="g"><text class="co" x="537" y="2.8">(GER)</text><text class="nm" x="550" y="3.5">マティアス・バッキンガー</text></g></g>
<g id="R62" transform="translate(0,890)"><text class="sc r" x="496.5" y="3">0</text><g class="g"><text class="co" x="537" y="2.8">(COL)</text><text class="nm" x="550" y="3.5">アレハンドロ・ファージャ</text></g></g>
<g id="R63" transform="translate(0,903.4)"><rect class="hl" x="548" y="-5.5" width="132" height="11"/><text class="sc r" x="496.5" y="3">3</text><text class="co" x="537" y="2.8">(SUI)</text><text class="nm" x="550" y="3.5">ロジャー・フェデラー</text><text class="sd" x="666" y="3">【2】</text></g>
</g>
</svg>
